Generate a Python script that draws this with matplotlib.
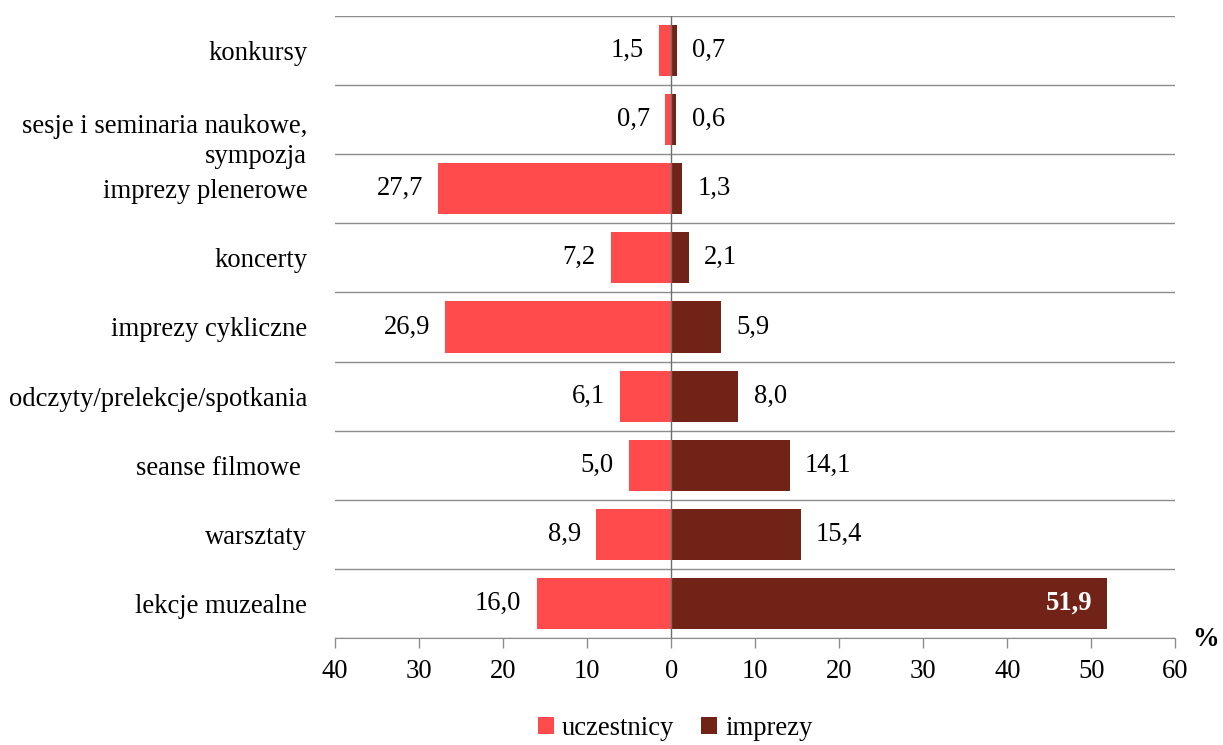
import matplotlib
matplotlib.use("Agg")
import matplotlib.pyplot as plt
import matplotlib.transforms as mtransforms
import numpy as np

plt.rcParams["font.family"] = ["Liberation Serif", "DejaVu Serif"]

categories = [
    "konkursy",
    "sesje i seminaria naukowe,\nsympozja",
    "imprezy plenerowe",
    "koncerty",
    "imprezy cykliczne",
    "odczyty/prelekcje/spotkania",
    "seanse filmowe ",
    "warsztaty",
    "lekcje muzealne",
]
uczestnicy = [1.5, 0.7, 27.7, 7.2, 26.9, 6.1, 5.0, 8.9, 16.0]
imprezy = [0.7, 0.6, 1.3, 2.1, 5.9, 8.0, 14.1, 15.4, 51.9]
xticks = [-40, -30, -20, -10, 0, 10, 20, 30, 40, 50, 60]

C_UCZ = "#ff4b4b"
C_IMP = "#722318"
FS = 19.2

fig = plt.figure(figsize=(12.23, 7.45), dpi=100)
ax = fig.add_axes([0.274, 0.1436, 0.687, 0.835])

n = len(categories)
y = np.arange(n)[::-1]  # first category at top
h = 0.74

ax.barh(y, [-v for v in uczestnicy], height=h, color=C_UCZ, label="uczestnicy", zorder=2)
ax.barh(y, imprezy, height=h, color=C_IMP, label="imprezy", zorder=2)

for yi, u, im in zip(y, uczestnicy, imprezy):
    ax.annotate(f"{u:.1f}".replace(".", ","), (-u, yi), xytext=(-11, 0),
                textcoords="offset points", ha="right", va="center", fontsize=FS)
    if im > 40:
        ax.annotate(f"{im:.1f}".replace(".", ","), (im, yi), xytext=(-11, 0),
                    textcoords="offset points", ha="right", va="center",
                    fontsize=FS, color="white", fontweight="bold")
    else:
        ax.annotate(f"{im:.1f}".replace(".", ","), (im, yi), xytext=(11, 0),
                    textcoords="offset points", ha="left", va="center", fontsize=FS)

# horizontal separators between categories
for b in np.arange(n + 1) - 0.5:
    ax.axhline(b, color="#8c8c8c", lw=1.0, zorder=1)
ax.axvline(0, color="#6e6e6e", lw=1.0, zorder=3)

ax.set_xlim(-40, 60)
ax.set_ylim(-0.5, n - 0.5)
ax.set_xticks(xticks)
ax.set_xticklabels([str(abs(t)) for t in xticks], fontsize=FS)
ax.set_yticks(y)
ax.set_yticklabels(categories, fontsize=FS, linespacing=1.3)
ax.tick_params(axis="y", length=0, pad=20)
ax.tick_params(axis="x", length=7, width=1, color="#8c8c8c", pad=8, direction="out")

for lbl in ax.get_yticklabels():
    if "\n" in lbl.get_text():
        lbl.set_transform(lbl.get_transform() +
                          mtransforms.ScaledTranslation(0, -0.16, fig.dpi_scale_trans))

for s in ["top", "right", "left"]:
    ax.spines[s].set_visible(False)
ax.spines["bottom"].set_color("#8c8c8c")

fig.text(0.997, 0.141, "%", fontsize=FS, fontweight="bold", ha="right", va="center")

ax.legend(loc="center", bbox_to_anchor=(0.552, 0.022), bbox_transform=fig.transFigure,
          ncol=2, frameon=False, fontsize=FS, handlelength=0.6, handleheight=0.6,
          handletextpad=0.3, columnspacing=1.0)

fig.savefig("out.png", dpi=100)
